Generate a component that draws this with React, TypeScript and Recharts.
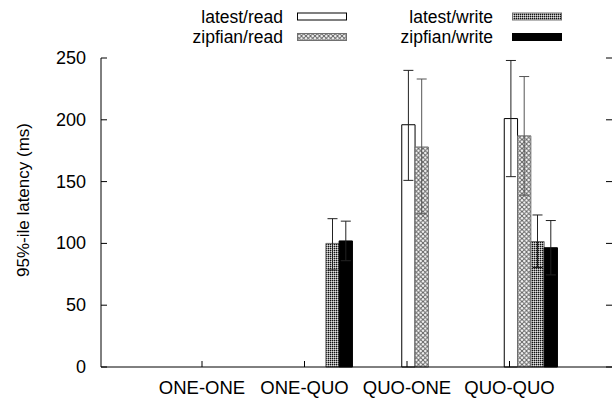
import React from 'react';
import { BarChart, Bar, XAxis, YAxis, ErrorBar, Legend } from 'recharts';

const categories = ['ONE-ONE', 'ONE-QUO', 'QUO-ONE', 'QUO-QUO'];
const latestRead = [null, null, 196, 201];
const latestReadErr = [null, null, [45, 44], [47, 47]];
const zipfianRead = [null, null, 178, 187];
const zipfianReadErr = [null, null, [54, 55], [48, 48]];
const latestWrite = [null, 100, null, 101.5];
const latestWriteErr = [null, [21.5, 20], null, [21, 21.5]];
const zipfianWrite = [null, 102, null, 96.5];
const zipfianWriteErr = [null, [16, 16], null, [22, 22]];
const yTicks = [0, 50, 100, 150, 200, 250];
const seriesNames = ['latest/read', 'zipfian/read', 'latest/write', 'zipfian/write'];
const yLabel = '95%-ile latency (ms)';

const data = categories.map((cat, i) => ({
  cat,
  lr: latestRead[i],
  lrErr: latestReadErr[i],
  zr: zipfianRead[i],
  zrErr: zipfianReadErr[i],
  lw: latestWrite[i],
  lwErr: latestWriteErr[i],
  zw: zipfianWrite[i],
  zwErr: zipfianWriteErr[i],
}));

const FONT = '"Liberation Sans", Arial, Helvetica, sans-serif';

const fills = ['#ffffff', 'url(#xhatch)', 'url(#dense)', '#000000'];
const strokes = ['#000000', '#707070', '#707070', '#000000'];

const Patterns = () => (
  <defs>
    <pattern id="xhatch" patternUnits="userSpaceOnUse" width="4.5" height="4.5">
      <rect width="4.5" height="4.5" fill="#ffffff" />
      <path d="M0,0 L4.5,4.5 M4.5,0 L0,4.5" stroke="#606060" strokeWidth="1" />
    </pattern>
    <pattern id="dense" patternUnits="userSpaceOnUse" width="2" height="2">
      <rect width="2" height="2" fill="#949494" />
      <rect x="0" y="0" width="1" height="1" fill="#111111" />
      <rect x="1" y="1" width="1" height="1" fill="#e0e0e0" />
    </pattern>
  </defs>
);

const XTick = (props: any) => {
  const { x, y, payload } = props;
  const cx = x - 21;
  return (
    <g>
      <line x1={cx} x2={cx} y1={y} y2={y - 6} stroke="#000" />
      <text x={cx} y={y + 27} textAnchor="middle" fontFamily={FONT} fontSize={18.5} fill="#000">
        {payload.value}
      </text>
    </g>
  );
};

const XTopTick = (props: any) => {
  const { x, y } = props;
  const cx = x - 21;
  return <line x1={cx} x2={cx} y1={y} y2={y + 6} stroke="#000" />;
};

const YTick = (props: any) => {
  const { x, y, payload } = props;
  return (
    <g>
      <line x1={x} x2={x + 6} y1={y} y2={y} stroke="#000" />
      <line x1={606} x2={612} y1={y} y2={y} stroke="#000" />
      <text x={x - 15} y={y} textAnchor="end" dominantBaseline="central" fontFamily={FONT} fontSize={18} fill="#000">
        {payload.value}
      </text>
    </g>
  );
};

const renderLegend = () => (
  <svg width={612} height={50} style={{ display: 'block' }}>
    {seriesNames.map((name, i) => {
      const col = Math.floor(i / 2);
      const row = i % 2;
      const textRight = col === 0 ? 283 : 493;
      const boxX = col === 0 ? 297 : 512;
      const cy = row === 0 ? 16.5 : 37;
      return (
        <g key={name}>
          <text x={textRight} y={cy} textAnchor="end" dominantBaseline="central" fontFamily={FONT} fontSize={17.5} fill="#000">
            {name}
          </text>
          <rect x={boxX + 0.5} y={cy - 3.5} width={49} height={7} fill={fills[i]} stroke={strokes[i]} />
        </g>
      );
    })}
  </svg>
);

export default function App() {
  return (
    <div style={{ position: 'absolute', left: 0, top: 0, width: 612, height: 400, background: '#fff' }}>
      <BarChart
        width={612}
        height={400}
        data={data}
        margin={{ top: 58, right: 0, left: 0, bottom: 0 }}
        barGap={0}
        barSize={13.3}
      >
        <Patterns />
        <XAxis
          dataKey="cat"
          height={33}
          padding={{ left: 70.75, right: 30.25 }}
          tickSize={0}
          tickMargin={0}
          tickLine={false}
          axisLine={{ stroke: '#000' }}
          tick={<XTick />}
          interval={0}
        />
        <XAxis
          xAxisId="top"
          orientation="top"
          dataKey="cat"
          height={0}
          padding={{ left: 70.75, right: 30.25 }}
          tickSize={0}
          tickMargin={0}
          tickLine={false}
          axisLine={{ stroke: '#000' }}
          tick={<XTopTick />}
          interval={0}
        />
        <YAxis
          width={101}
          domain={[0, 250]}
          ticks={yTicks}
          tickSize={0}
          tickMargin={0}
          tickLine={false}
          axisLine={{ stroke: '#000' }}
          tick={<YTick />}
          interval={0}
          label={(p: any) => (
            <text
              x={23}
              y={200}
              transform="rotate(-90 23 200)"
              textAnchor="middle"
              dominantBaseline="central"
              fontFamily={FONT}
              fontSize={17}
              fill="#000"
            >
              {yLabel}
            </text>
          )}
        />
        <Legend
          layout="horizontal"
          verticalAlign="middle"
          align="center"
          wrapperStyle={{ top: 0, left: 0, width: 612, height: 50 }}
          content={renderLegend}
        />
        <Bar dataKey="lr" name={seriesNames[0]} fill={fills[0]} stroke={strokes[0]} isAnimationActive={false}>
          <ErrorBar dataKey="lrErr" width={5} stroke="#222" strokeWidth={1} direction="y" />
        </Bar>
        <Bar dataKey="zr" name={seriesNames[1]} fill={fills[1]} stroke={strokes[1]} isAnimationActive={false}>
          <ErrorBar dataKey="zrErr" width={5} stroke="#555" strokeWidth={1} direction="y" />
        </Bar>
        <Bar dataKey="lw" name={seriesNames[2]} fill={fills[2]} stroke={strokes[2]} isAnimationActive={false}>
          <ErrorBar dataKey="lwErr" width={5} stroke="#222" strokeWidth={1} direction="y" />
        </Bar>
        <Bar dataKey="zw" name={seriesNames[3]} fill={fills[3]} stroke={strokes[3]} isAnimationActive={false}>
          <ErrorBar dataKey="zwErr" width={5} stroke="#222" strokeWidth={1} direction="y" />
        </Bar>
      </BarChart>
    </div>
  );
}
